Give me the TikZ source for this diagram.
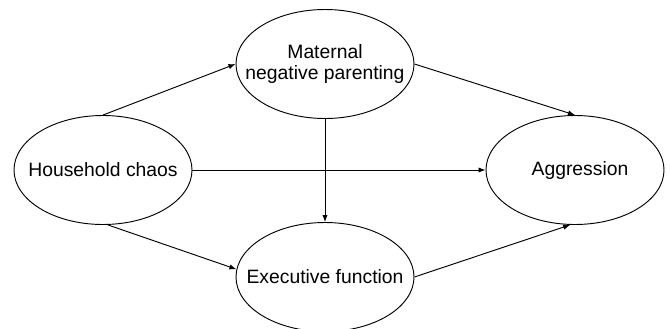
\documentclass[tikz,border=0pt]{standalone}
\usepackage{fontspec}
\setmainfont{Liberation Sans}
\usetikzlibrary{shapes.geometric,arrows.meta}
\tikzset{
  >={Latex[length=6pt,width=4.5pt]},
  var/.style={
    draw,
    ellipse,
    line width=0.8pt,
    minimum width=5.34cm,
    minimum height=3.27cm,
    inner sep=0pt
  },
  txt/.style={
    align=center,
    inner sep=0pt,
    font=\fontsize{16.5}{18.5}\selectfont
  },
  link/.style={->, line width=0.8pt}
}

\begin{document}
\begin{tikzpicture}[x=0.03cm, y=-0.03cm]
  \useasboundingbox (0,0) rectangle (670,328);

  \node[var, label={[txt]center:Household chaos}] (chaos) at (103,170) {};
  \node[var, label={[txt]center:{Maternal\\negative parenting}}] (mneg) at (325,64) {};
  \node[var, label={[txt]center:Executive function}] (exfun) at (325,277) {};
  \node[var, label={[txt, xshift=0.15cm]center:Aggression}] (aggr) at (575,170) {};

  \draw[link] (chaos.north) -- (mneg.west);
  \draw[link] (mneg.east) -- (aggr.north);
  \draw[link] (chaos.east) -- (aggr.west);
  \draw[link] (mneg.south) -- (exfun.north);
  \draw[link] (chaos.-85) -- (exfun.175);
  \draw[link] (exfun.east) -- (aggr.-95);
\end{tikzpicture}
\end{document}
